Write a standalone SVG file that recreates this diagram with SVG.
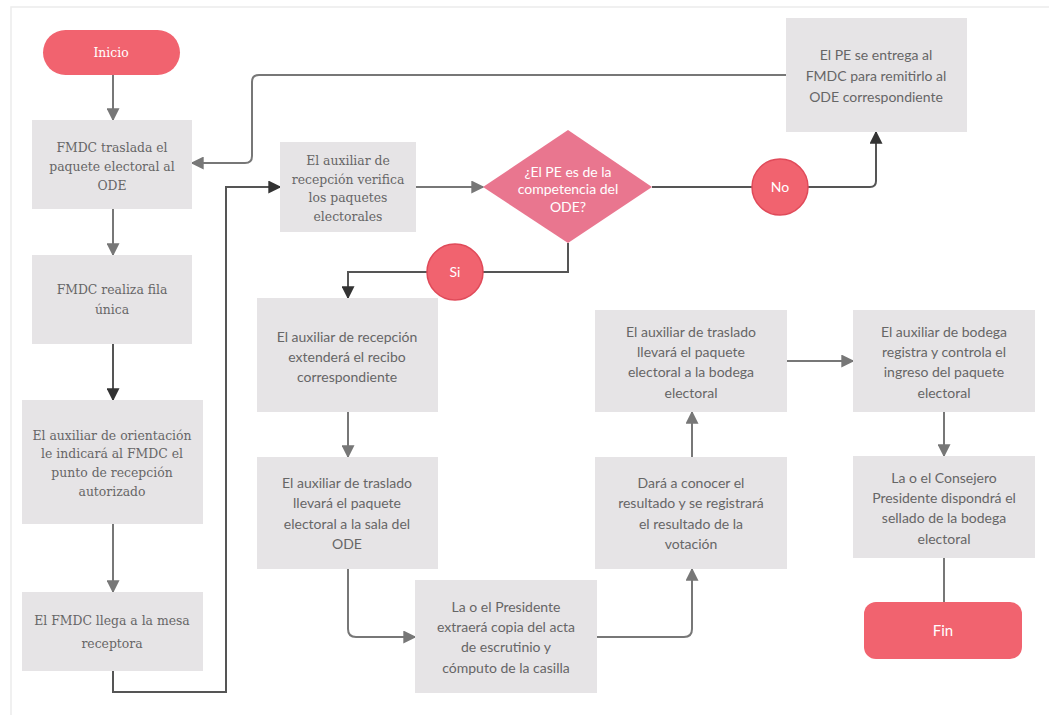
<svg xmlns="http://www.w3.org/2000/svg" width="1049" height="715" viewBox="0 0 1049 715">
<defs>
<style>
.box{fill:#e6e4e6}
.red{fill:#f1636f}
.circ{fill:#f1636f;stroke:#e04a59;stroke-width:1.5}
.dia{fill:#e9768f}
.tsr{font-family:'DejaVu Serif',serif;font-size:12.4px;fill:#666;text-anchor:middle}
.sans{font-family:Lato,'Open Sans','Liberation Sans',sans-serif;font-size:14px;fill:#666;text-anchor:middle}
.wsans{font-family:Lato,'Open Sans','Liberation Sans',sans-serif;font-size:14px;fill:#fff;text-anchor:middle}
.wsr{font-family:'DejaVu Serif',serif;font-size:12.4px;fill:#fff;text-anchor:middle}
.cg{fill:none;stroke:#777;stroke-width:2;marker-end:url(#ag)}
.cd{fill:none;stroke:#555;stroke-width:2;marker-end:url(#ad)}
.cn{fill:none;stroke:#777;stroke-width:2}
.frame{stroke:#ececec;stroke-width:1.5;fill:none}
</style>
<marker id="ag" viewBox="0 0 10 10" refX="9" refY="5" markerWidth="13" markerHeight="13" markerUnits="userSpaceOnUse" orient="auto"><path d="M0,0 L10,5 L0,10 z" fill="#777"/></marker>
<marker id="ad" viewBox="0 0 10 10" refX="9" refY="5" markerWidth="13" markerHeight="13" markerUnits="userSpaceOnUse" orient="auto"><path d="M0,0 L10,5 L0,10 z" fill="#333"/></marker>
</defs>
<rect width="1049" height="715" fill="#fff"/>
<path class="frame" d="M11,715 V7 H1049"/>
<g id="connectors">
<path class="cg" d="M113,75 V120"/>
<path class="cg" d="M113,209 V255"/>
<path class="cd" d="M113,344 V400"/>
<path class="cg" d="M113,524 V592"/>
<path class="cd" d="M113,671 V692 H226 V187 H280"/>
<path class="cg" d="M416,187 H483"/>
<path class="cd" d="M652,187 H870 Q876,187 876,181 V132"/>
<path class="cg" d="M786,75 H259 Q252,75 252,82 V156 Q252,163 245,163 H192"/>
<path class="cd" d="M568,243 V272 H348 V298"/>
<path class="cg" d="M348,412 V457"/>
<path class="cg" d="M348,569 V629 Q348,637 356,637 H415"/>
<path class="cg" d="M597,637 H684 Q692,637 692,629 V569"/>
<path class="cg" d="M692,457 V412"/>
<path class="cg" d="M787,361 H853"/>
<path class="cg" d="M944,412 V456"/>
<path class="cn" d="M944,558 V602"/>
</g>
<g id="inicio"><rect class="red" x="43" y="30" width="137" height="45" rx="22.5"/><text class="wsr" x="111" y="57">Inicio</text></g>
<g id="n1"><rect class="box" x="32" y="120" width="160" height="89"/><text class="tsr" x="112" y="152">FMDC traslada el</text><text class="tsr" x="112" y="171">paquete electoral al</text><text class="tsr" x="112" y="190">ODE</text></g>
<g id="n2"><rect class="box" x="32" y="255" width="160" height="89"/><text class="tsr" x="112" y="294">FMDC realiza fila</text><text class="tsr" x="112" y="314">única</text></g>
<g id="n3"><rect class="box" x="22" y="400" width="181" height="124"/><text class="tsr" x="112" y="440">El auxiliar de orientación</text><text class="tsr" x="112" y="458">le indicará al FMDC el</text><text class="tsr" x="112" y="477">punto de recepción</text><text class="tsr" x="112" y="496">autorizado</text></g>
<g id="n4"><rect class="box" x="22" y="592" width="181" height="79"/><text class="tsr" x="112" y="625">El FMDC llega a la mesa</text><text class="tsr" x="112" y="648">receptora</text></g>
<g id="n5"><rect class="box" x="280" y="142" width="136" height="90"/><text class="tsr" x="348" y="165">El auxiliar de</text><text class="tsr" x="348" y="184">recepción verifica</text><text class="tsr" x="348" y="202">los paquetes</text><text class="tsr" x="348" y="221">electorales</text></g>
<g id="decision"><path class="dia" d="M568,130 L652,187 L568,243 L483,187 z"/><text class="wsans" x="568" y="177">¿El PE es de la</text><text class="wsans" x="568" y="194">competencia del</text><text class="wsans" x="568" y="212">ODE?</text></g>
<g id="no"><circle class="circ" cx="780" cy="187" r="28"/><text class="wsans" x="780" y="192">No</text></g>
<g id="si"><circle class="circ" cx="455" cy="272" r="28"/><text class="wsans" x="455" y="277">Si</text></g>
<g id="n6"><rect class="box" x="786" y="18" width="181" height="114"/><text class="sans" x="876" y="60">El PE se entrega al</text><text class="sans" x="876" y="81">FMDC para remitirlo al</text><text class="sans" x="876" y="102">ODE correspondiente</text></g>
<g id="n7"><rect class="box" x="257" y="298" width="181" height="114"/><text class="sans" x="347" y="342">El auxiliar de recepción</text><text class="sans" x="347" y="362">extenderá el recibo</text><text class="sans" x="347" y="382">correspondiente</text></g>
<g id="n8"><rect class="box" x="257" y="457" width="181" height="112"/><text class="sans" x="347" y="488">El auxiliar de traslado</text><text class="sans" x="347" y="508">llevará el paquete</text><text class="sans" x="347" y="529">electoral a la sala del</text><text class="sans" x="347" y="549">ODE</text></g>
<g id="n9"><rect class="box" x="415" y="580" width="182" height="113"/><text class="sans" x="506" y="612">La o el Presidente</text><text class="sans" x="506" y="632">extraerá copia del acta</text><text class="sans" x="506" y="652">de escrutinio y</text><text class="sans" x="506" y="673">cómputo de la casilla</text></g>
<g id="n10"><rect class="box" x="595" y="457" width="192" height="112"/><text class="sans" x="691" y="488">Dará a conocer el</text><text class="sans" x="691" y="508">resultado y se registrará</text><text class="sans" x="691" y="529">el resultado de la</text><text class="sans" x="691" y="549">votación</text></g>
<g id="n11"><rect class="box" x="595" y="310" width="192" height="102"/><text class="sans" x="691" y="337">El auxiliar de traslado</text><text class="sans" x="691" y="357">llevará el paquete</text><text class="sans" x="691" y="377">electoral a la bodega</text><text class="sans" x="691" y="398">electoral</text></g>
<g id="n12"><rect class="box" x="853" y="310" width="182" height="102"/><text class="sans" x="944" y="337">El auxiliar de bodega</text><text class="sans" x="944" y="357">registra y controla el</text><text class="sans" x="944" y="377">ingreso del paquete</text><text class="sans" x="944" y="398">electoral</text></g>
<g id="n13"><rect class="box" x="853" y="456" width="182" height="102"/><text class="sans" x="944" y="483">La o el Consejero</text><text class="sans" x="944" y="503">Presidente dispondrá el</text><text class="sans" x="944" y="523">sellado de la bodega</text><text class="sans" x="944" y="544">electoral</text></g>
<g id="fin"><rect class="red" x="864" y="602" width="158" height="57" rx="12"/><text class="wsans" x="943" y="636" style="font-size:15px">Fin</text></g>
</svg>
